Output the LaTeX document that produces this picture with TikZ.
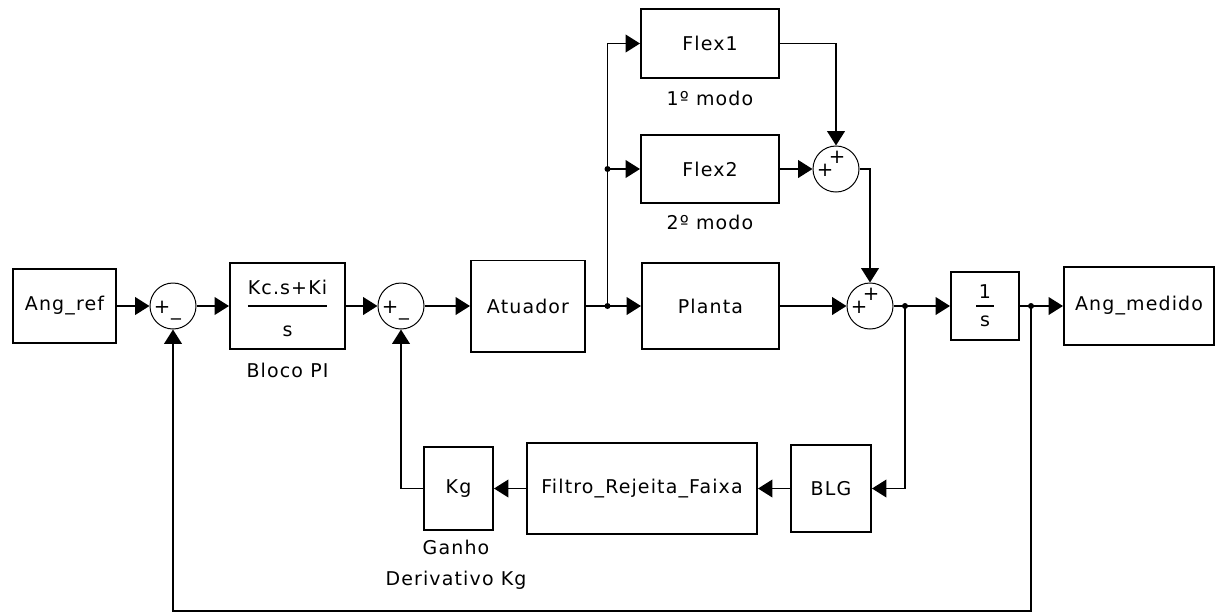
\documentclass[tikz,border=0pt]{standalone}
\usepackage{fontspec}
\setmainfont{DejaVu Sans}[LetterSpace=6]
\usetikzlibrary{arrows.meta,positioning}

\begin{document}
\begin{tikzpicture}[
  x=0.025cm, y=-0.025cm,
  font=\fontsize{13.5}{16}\selectfont,
  line width=1.4pt,
  blk/.style={draw, inner sep=0pt},
  sumc/.style={draw, circle, minimum size=1.15cm, inner sep=0pt, line width=0.7pt},
  sgn/.style={inner sep=0pt, font=\fontsize{14}{14}\selectfont},
  dot/.style={circle, fill, inner sep=0pt, minimum size=0.15cm},
  lbl/.style={align=center, inner sep=0pt, font=\fontsize{13.5}{22}\selectfont},
  arr/.style={-{Triangle[length=0.36cm, width=0.44cm]}}
]
\useasboundingbox (0,0) rectangle (1215,614);

% forward path
\node[blk, minimum width=2.575cm, minimum height=1.85cm] (angref) at (64.5,306) {Ang\_ref};
\node[sumc] (s1) at (173,306) {};
\node[blk, minimum width=2.875cm, minimum height=2.15cm] (pi) at (287.5,306) {};
\node[sumc] (s2) at (401,306) {};
\node[blk, minimum width=2.85cm, minimum height=2.275cm] (atu) at (528,306) {Atuador};
\node[dot] (j1) at (607.5,306) {};
\node[blk, minimum width=3.425cm, minimum height=2.15cm] (planta) at (710.5,306) {Planta};
\node[sumc] (s4) at (870,306) {};
\node[dot] (j2) at (905,306) {};
\node[blk, minimum size=1.7cm] (integ) at (985,306) {};
\node[dot] (j3) at (1031,306) {};
\node[blk, minimum width=3.75cm, minimum height=1.95cm] (angmed) at (1139,306) {Ang\_medido};

% flexible modes
\node[blk, minimum width=3.45cm, minimum height=1.725cm] (flex1) at (710,43.5) {Flex1};
\node[blk, minimum width=3.45cm, minimum height=1.7cm] (flex2) at (710,169) {Flex2};
\node[dot] (j0) at (607.5,169) {};
\node[sumc] (s3) at (836,169) {};

% feedback
\node[blk, minimum width=2cm, minimum height=2.175cm] (blg) at (831,488.5) {BLG};
\node[blk, minimum width=5.75cm, minimum height=2.275cm] (filtro) at (642,488.5) {Filtro\_Rejeita\_Faixa};
\node[blk, minimum width=1.725cm, minimum height=2.075cm] (kg) at (458.5,488.5) {Kg};
\coordinate (fbb) at (173,611);

% block contents and labels
\node (pinum) at (287.5,287.5) {Kc.s+Ki};
\node (piden) at (287.5,331) {s};
\draw[line width=1pt] ([xshift=-0.99cm]pi.center) -- ([xshift=0.99cm]pi.center);
\node (intnum) at (985,292) {1};
\node (intden) at (985,321) {s};
\draw[line width=1pt] ([xshift=-0.22cm]integ.center) -- ([xshift=0.22cm]integ.center);
\node[lbl] (pilbl) at (287.5,370) {Bloco PI};
\node[lbl] (flex1lbl) at (710,98) {1º modo};
\node[lbl] (flex2lbl) at (710,222) {2º modo};
\node[lbl] (kglbl) at (456,565) {Ganho\\Derivativo Kg};

% signs
\node[sgn] at ([shift={(-11,1)}]s1.center) {+};
\node[sgn] at ([shift={(3,12)}]s1.center) {\_};
\node[sgn] at ([shift={(-11,1)}]s2.center) {+};
\node[sgn] at ([shift={(3,12)}]s2.center) {\_};
\node[sgn] at ([shift={(-11,1)}]s3.center) {+};
\node[sgn] at ([shift={(1,-12)}]s3.center) {+};
\node[sgn] at ([shift={(-11,1)}]s4.center) {+};
\node[sgn] at ([shift={(1,-12)}]s4.center) {+};

% connectors
\draw[arr] (angref) -- (s1);
\draw[arr] (s1) -- (pi);
\draw[arr] (pi) -- (s2);
\draw[arr] (s2) -- (atu);
\draw (atu) -- (j1.center);
\draw[arr] (j1.center) -- (planta);
\draw[arr] (j1.center) |- (flex1.west);
\draw[arr] (j0.center) -- (flex2);
\draw[arr] (flex1.east) -| (s3.north);
\draw[arr] (flex2) -- (s3);
\draw[arr] (s3.east) -| (s4.north);
\draw[arr] (planta) -- (s4);
\draw (s4) -- (j2.center);
\draw[arr] (j2.center) -- (integ);
\draw (integ) -- (j3.center);
\draw[arr] (j3.center) -- (angmed);
\draw[arr] (j3.center) |- (fbb) -- (s1.south);
\draw[arr] (j2.center) |- (blg.east);
\draw[arr] (blg) -- (filtro);
\draw[arr] (filtro) -- (kg);
\draw[arr] (kg.west) -| (s2.south);
\end{tikzpicture}
\end{document}
